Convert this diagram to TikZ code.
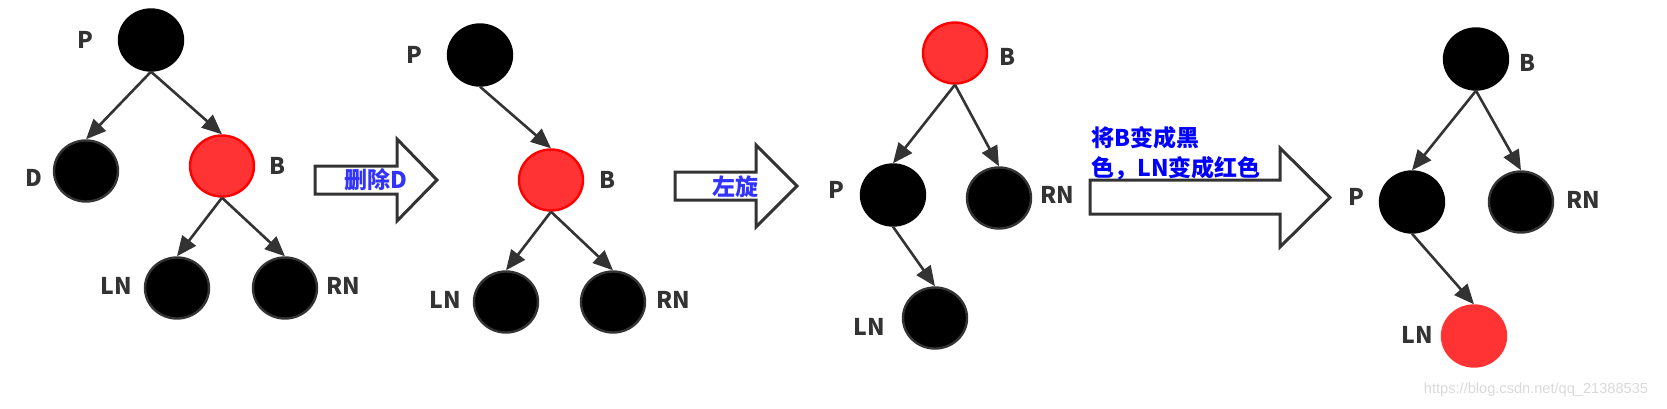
\documentclass[tikz,border=0pt]{standalone}
\usepackage{fontspec}
\setmainfont{Noto Sans CJK SC}
\newfontfamily\wmfont{Liberation Sans}
\usetikzlibrary{arrows.meta,shapes.geometric}

\definecolor{edgegray}{HTML}{333333}
\definecolor{nodered}{HTML}{FF3333}
\definecolor{stepblue}{HTML}{3333FF}
\definecolor{noteblue}{HTML}{0000FF}

\begin{document}
\begin{tikzpicture}[x=0.5pt, y=-0.5pt,
    blk/.style={ellipse, draw=black, line width=1.2pt, fill=black, minimum width=32pt, minimum height=30.5pt, inner sep=0pt},
    blkrim/.style={blk, draw=edgegray},
    rednode/.style={blk, draw=red, fill=nodered},
    lab/.style={font=\bfseries\fontsize{11.5pt}{13pt}\selectfont, text=edgegray, inner sep=0pt},
    link/.style={-{Triangle[length=10pt,width=8.5pt]}, draw=edgegray, line width=1.3pt},
    bigarrow/.style={draw=edgegray, line width=1.5pt, fill=white},
    steptext/.style={font=\bfseries\fontsize{11.5pt}{15pt}\selectfont, text=stepblue, inner sep=0pt}]
    \useasboundingbox (0,0) rectangle (1667,408);

    % Tree 1
    \node[blk] (P1) at (151,40) {};
    \node[blkrim] (D1) at (86,171) {};
    \node[rednode] (B1) at (222,166) {};
    \node[blkrim] (LN1) at (177,288) {};
    \node[blkrim] (RN1) at (285,288) {};
    \node[lab] (P1L) at (85,40) {P};
    \node[lab] (D1L) at (34,178) {D};
    \node[lab] (B1L) at (277,166) {B};
    \node[lab] (LN1L) at (116,286) {LN};
    \node[lab] (RN1L) at (343,286) {RN};
    \draw[link] (P1.south) -- (D1.north);
    \draw[link] (P1.south) -- (B1.north);
    \draw[link] (B1.south) -- (LN1.north);
    \draw[link] (B1.south) -- (RN1.north);

    % Step 1
    \draw[bigarrow] (315,166) -- (397,166) -- (397,139) -- (437,180) -- (397,221) -- (397,194) -- (315,194) -- cycle;
    \node[steptext] (STEP1) at (376,180) {删除D};

    % Tree 2
    \node[blk] (P2) at (480,55) {};
    \node[rednode] (B2) at (551,180) {};
    \node[blkrim] (LN2) at (506,302) {};
    \node[blkrim] (RN2) at (613,302) {};
    \node[lab] (P2L) at (414,55) {P};
    \node[lab] (B2L) at (607,180) {B};
    \node[lab] (LN2L) at (445,300) {LN};
    \node[lab] (RN2L) at (673,300) {RN};
    \draw[link] (P2.south) -- (B2.north);
    \draw[link] (B2.south) -- (LN2.north);
    \draw[link] (B2.south) -- (RN2.north);

    % Step 2
    \draw[bigarrow] (675,172) -- (756,172) -- (756,145) -- (797,186) -- (756,227) -- (756,200) -- (675,200) -- cycle;
    \node[steptext] (STEP2) at (735,187) {左旋};

    % Tree 3
    \node[rednode] (B3) at (955,53) {};
    \node[blk] (P3) at (893,195) {};
    \node[blkrim] (RN3) at (999,198) {};
    \node[blkrim] (LN3) at (935,318) {};
    \node[lab] (B3L) at (1007,57) {B};
    \node[lab] (P3L) at (836,190) {P};
    \node[lab] (RN3L) at (1057,195) {RN};
    \node[lab] (LN3L) at (869,327) {LN};
    \draw[link] (B3.south) -- (P3.north);
    \draw[link] (B3.south) -- (RN3.north);
    \draw[link] (P3.south) -- (LN3.north);

    % Step 3
    \draw[bigarrow] (1090,180) -- (1280,180) -- (1280,148) -- (1330,197.5) -- (1280,247) -- (1280,214) -- (1090,214) -- cycle;
    \node[steptext, text=noteblue, align=left, anchor=west] (STEP3) at (1091,153) {将B变成黑\\色，LN变成红色};

    % Tree 4
    \node[blk] (B4) at (1476,59) {};
    \node[blk] (P4) at (1412,202) {};
    \node[blkrim] (RN4) at (1521,202) {};
    \node[rednode, draw=nodered] (LN4) at (1474,336) {};
    \node[lab] (B4L) at (1527,63) {B};
    \node[lab] (P4L) at (1356,197) {P};
    \node[lab] (RN4L) at (1583,200) {RN};
    \node[lab] (LN4L) at (1417,335) {LN};
    \draw[link] (B4.south) -- (P4.north);
    \draw[link] (B4.south) -- (RN4.north);
    \draw[link] (P4.south) -- (LN4.north);

    % Watermark
    \node[font=\wmfont\fontsize{7.3pt}{9pt}\selectfont, text=black!15] (MARK) at (1536,390) {https://blog.csdn.net/qq\_21388535};
\end{tikzpicture}
\end{document}
